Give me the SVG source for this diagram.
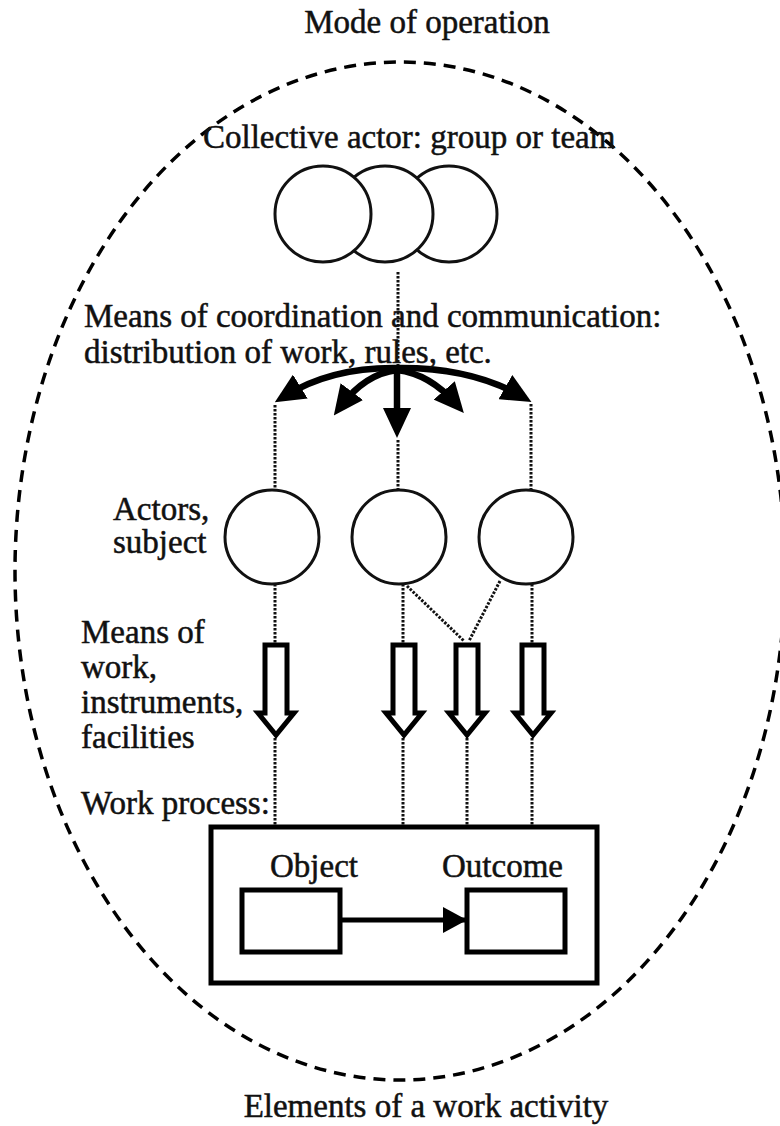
<svg xmlns="http://www.w3.org/2000/svg" width="780" height="1126" viewBox="0 0 780 1126" font-family="'Liberation Serif', 'Times New Roman', serif">
  <defs>
    <style>
      text { font-family: "Liberation Serif", "Times New Roman", serif; font-size: 33px; fill: #111; stroke: #111; stroke-width: 0.5; }
      .mid { text-anchor: middle; }
      .ring { fill: #fff; stroke: #111; stroke-width: 3; }
      .dot { fill: none; stroke: #111; stroke-width: 3; stroke-dasharray: 2.5 1.5; }
      .thick { fill: none; stroke: #000; stroke-width: 6.5; }
      .hollow { fill: #fff; stroke: #000; stroke-width: 5; stroke-linejoin: miter; }
      .box { fill: #fff; stroke: #000; stroke-width: 5; }
    </style>
    <marker id="solidHead" viewBox="0 0 30 28" markerWidth="30" markerHeight="28" markerUnits="userSpaceOnUse" refX="18" refY="14" orient="auto">
      <path d="M0,0 L30,14 L0,28 z" fill="#000"/>
    </marker>
    <marker id="smallHead" viewBox="0 0 24 26" markerWidth="24" markerHeight="26" markerUnits="userSpaceOnUse" refX="22" refY="13" orient="auto">
      <path d="M0,0 L24,13 L0,26 z" fill="#000"/>
    </marker>
    <!-- hollow downward arrow drawn from its top edge -->
    <polygon id="hollowArrow" class="hollow" points="-11,0 11,0 11,68 18,68 0,90 -18,68 -11,68"/>
  </defs>

  <!-- mode of operation boundary -->
  <g id="boundary">
    <ellipse cx="400" cy="571" rx="385" ry="509" fill="none" stroke="#000" stroke-width="3.5" stroke-dasharray="12 8"/>
    <text class="mid" x="427" y="33">Mode of operation</text>
    <text class="mid" x="426" y="1117">Elements of a work activity</text>
  </g>

  <!-- connectors -->
  <g id="connectors">
    <!-- collective actor to coordination hub -->
    <line class="dot" x1="398" y1="272" x2="398" y2="370"/>
    <!-- coordination arrows fanning out -->
    <path class="thick" d="M397,368 Q332,367 285,396" marker-end="url(#solidHead)"/>
    <path class="thick" d="M397,370 Q365,374 341,406" marker-end="url(#solidHead)"/>
    <path class="thick" d="M397,368 L397,426" marker-end="url(#solidHead)"/>
    <path class="thick" d="M397,370 Q430,374 456,404" marker-end="url(#solidHead)"/>
    <path class="thick" d="M397,368 Q470,367 521,396" marker-end="url(#solidHead)"/>
    <!-- arrows down to actors -->
    <line class="dot" x1="275" y1="405" x2="275" y2="490"/>
    <line class="dot" x1="398" y1="440" x2="398" y2="490"/>
    <line class="dot" x1="531" y1="404" x2="531" y2="490"/>
    <!-- actors to means of work -->
    <line class="dot" x1="275" y1="584" x2="275" y2="643"/>
    <line class="dot" x1="403" y1="584" x2="403" y2="643"/>
    <line class="dot" x1="407" y1="586" x2="464" y2="641"/>
    <line class="dot" x1="500" y1="581" x2="469" y2="641"/>
    <line class="dot" x1="532" y1="584" x2="532" y2="643"/>
    <!-- means of work to work process -->
    <line class="dot" x1="275" y1="738" x2="275" y2="826"/>
    <line class="dot" x1="403" y1="738" x2="403" y2="826"/>
    <line class="dot" x1="467" y1="738" x2="467" y2="826"/>
    <line class="dot" x1="532" y1="738" x2="532" y2="826"/>
  </g>

  <!-- collective actor -->
  <g id="collective">
    <text x="203" y="148">Collective actor: group or team</text>
    <circle class="ring" cx="449" cy="214" r="48"/>
    <circle class="ring" cx="385" cy="214" r="48"/>
    <circle class="ring" cx="323" cy="214" r="48"/>
  </g>

  <!-- coordination label -->
  <g id="coordination">
    <text x="84" y="327">Means of coordination and communication:</text>
    <text x="84" y="363">distribution of work, rules, etc.</text>
  </g>

  <!-- individual actors -->
  <g id="actors">
    <text x="113" y="520">Actors,</text>
    <text x="113" y="553">subject</text>
    <circle class="ring" cx="272" cy="537" r="47"/>
    <circle class="ring" cx="399" cy="537" r="47"/>
    <circle class="ring" cx="526" cy="537" r="47"/>
  </g>

  <!-- means of work -->
  <g id="means">
    <text x="81" y="643">Means of</text>
    <text x="81" y="678">work,</text>
    <text x="81" y="713">instruments,</text>
    <text x="81" y="748">facilities</text>
    <use href="#hollowArrow" x="276" y="645"/>
    <use href="#hollowArrow" x="404" y="645"/>
    <use href="#hollowArrow" x="467" y="645"/>
    <use href="#hollowArrow" x="533" y="645"/>
  </g>

  <!-- work process -->
  <g id="process">
    <text x="81" y="814">Work process:</text>
    <rect class="box" x="211" y="827" width="386" height="156"/>
    <text x="270" y="877">Object</text>
    <text x="442" y="877">Outcome</text>
    <rect class="box" x="242" y="890" width="98" height="62"/>
    <rect class="box" x="467" y="890" width="98" height="62"/>
    <line x1="340" y1="920" x2="465" y2="920" stroke="#000" stroke-width="5" marker-end="url(#smallHead)"/>
  </g>
</svg>
